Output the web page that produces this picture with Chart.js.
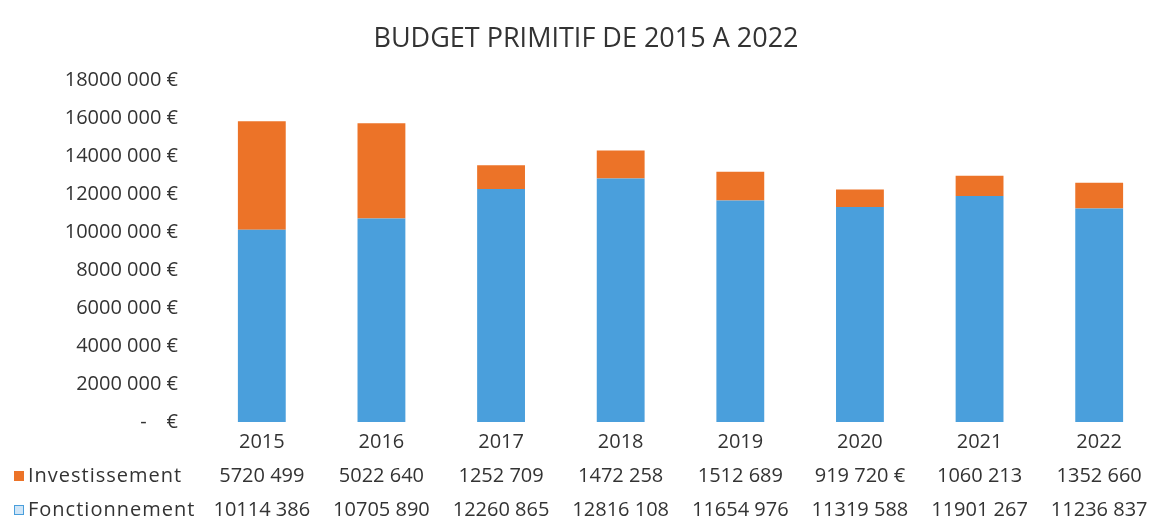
<!DOCTYPE html>
<html>
<head>
<meta charset="utf-8">
<script src="https://cdn.jsdelivr.net/npm/chart.js@4/dist/chart.umd.min.js"></script>
<style>
  html, body { margin: 0; padding: 0; background: #fff; }
  canvas { display: block; }
</style>
</head>
<body>
<canvas id="budget-chart" width="1159" height="520"></canvas>
<script>
const years = ["2015", "2016", "2017", "2018", "2019", "2020", "2021", "2022"];
const investissement = [5720499, 5022640, 1252709, 1472258, 1512689, 919720, 1060213, 1352660];
const fonctionnement = [10114386, 10705890, 12260865, 12816108, 11654976, 11319588, 11901267, 11236837];
const yTickLabels = ["-\u2002\u2002€", "2000 000 €", "4000 000 €", "6000 000 €", "8000 000 €",
  "10000 000 €", "12000 000 €", "14000 000 €", "16000 000 €", "18000 000 €"];
const chartTitle = "BUDGET PRIMITIF DE 2015 A 2022";

const orange = "#ec7328";
const blue = "#4a9fdc";
const textColor = "#333333";
const fontFamily = "'Open Sans'";

Chart.defaults.font.family = fontFamily;
Chart.defaults.color = textColor;

// table values: only the last thousands are separated, as in the source
function fmt(v) {
  const s = String(v);
  return s.slice(0, -3) + " " + s.slice(-3);
}

const tablePlugin = {
  id: "tablePlugin",
  afterDraw(chart) {
    const ctx = chart.ctx;
    const x = chart.scales.x;
    ctx.save();

    ctx.fillStyle = textColor;
    ctx.font = "27px " + fontFamily;
    ctx.textAlign = "center";
    ctx.textBaseline = "middle";
    ctx.fillText(chartTitle, 586, 39);

    ctx.font = "20px " + fontFamily;
    const rows = [
      { label: "Investissement", values: investissement, y: 476, color: orange },
      { label: "Fonctionnement", values: fonctionnement, y: 510, color: blue }
    ];
    rows.forEach((row, r) => {
      if (r === 0) {
        ctx.fillStyle = row.color;
        ctx.fillRect(14, row.y - 5, 10, 10);
      } else {
        ctx.fillStyle = "#cfe5f7";
        ctx.fillRect(14, row.y - 5, 10, 10);
        ctx.strokeStyle = row.color;
        ctx.lineWidth = 1;
        ctx.strokeRect(14.5, row.y - 4.5, 9, 9);
      }
      ctx.fillStyle = textColor;
      ctx.textAlign = "left";
      ctx.letterSpacing = "1px";
      ctx.fillText(row.label, 28, row.y);
      ctx.letterSpacing = "0px";
      ctx.textAlign = "center";
      row.values.forEach((v, i) => {
        let txt = fmt(v);
        if (r === 0 && v < 1000000) txt += " €";
        ctx.fillText(txt, x.getPixelForValue(i), row.y);
      });
    });
    ctx.restore();
  }
};

new Chart(document.getElementById("budget-chart"), {
  type: "bar",
  data: {
    labels: years,
    datasets: [
      {
        label: "Fonctionnement",
        data: fonctionnement,
        backgroundColor: blue,
        barPercentage: 0.8,
        categoryPercentage: 0.5
      },
      {
        label: "Investissement",
        data: investissement,
        backgroundColor: orange,
        barPercentage: 0.8,
        categoryPercentage: 0.5
      }
    ]
  },
  options: {
    responsive: false,
    animation: false,
    layout: { padding: { top: 80, left: 0, right: 0, bottom: 0 } },
    scales: {
      x: {
        stacked: true,
        grid: { display: false, drawTicks: false },
        border: { display: false },
        ticks: { font: { size: 20 }, padding: 8, color: textColor },
        afterFit: scale => { scale.height = 98; }
      },
      y: {
        stacked: true,
        min: 0,
        max: 18000000,
        grid: { display: false, drawTicks: false },
        border: { display: false },
        ticks: {
          stepSize: 2000000,
          padding: 24,
          font: { size: 20 },
          color: textColor,
          callback: (v, i) => yTickLabels[i]
        },
        afterFit: scale => { scale.width = 202; }
      }
    },
    plugins: {
      legend: { display: false },
      title: { display: false },
      tooltip: { enabled: false }
    }
  },
  plugins: [tablePlugin]
});
</script>
</body>
</html>
